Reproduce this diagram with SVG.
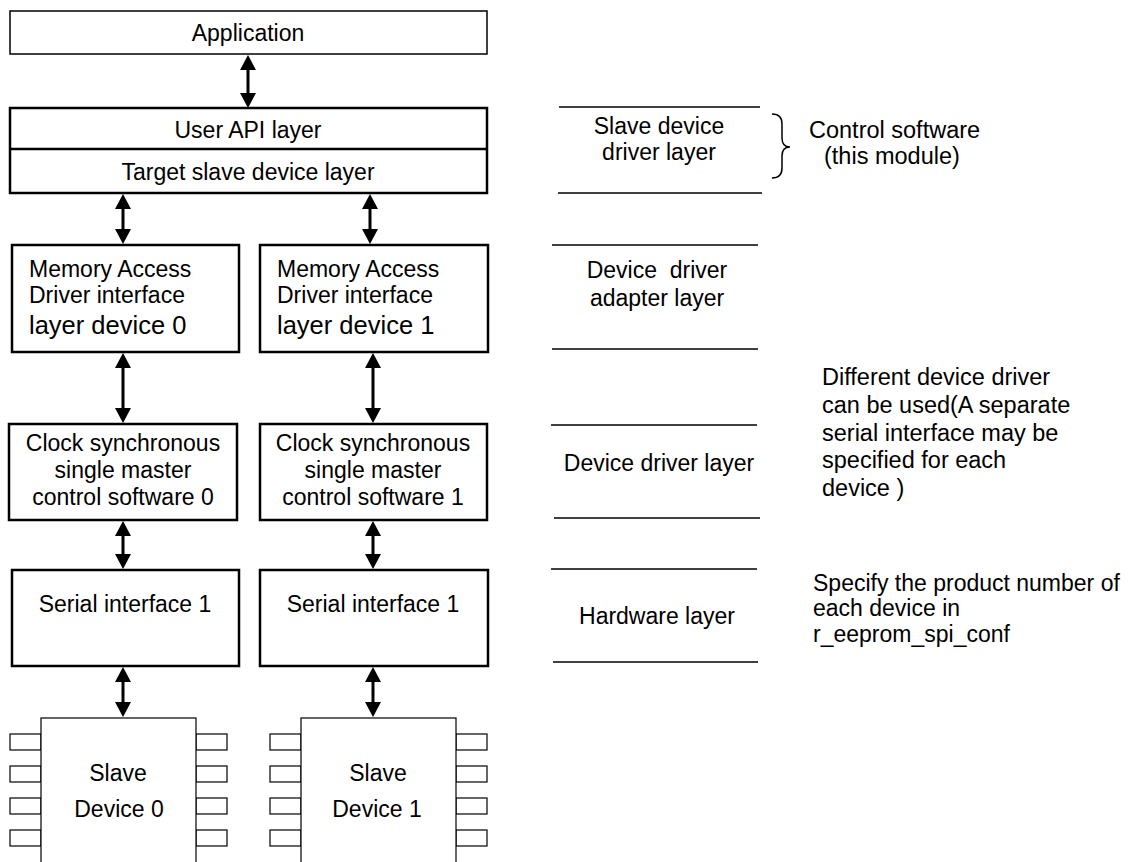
<svg xmlns="http://www.w3.org/2000/svg" width="1143" height="862" viewBox="0 0 1143 862">
<style>
text{font-family:"Liberation Sans",Arial,sans-serif;font-size:23px;fill:#000}
.c{text-anchor:middle}
.box{fill:#fff;stroke:#000;stroke-width:2.5}
.thin{fill:#fff;stroke:#000;stroke-width:1.5}
.chip{fill:#fff;stroke:#000;stroke-width:1.2}
.sep{stroke:#000;stroke-width:1.3}
.arr{stroke:#000;stroke-width:3;marker-start:url(#ah);marker-end:url(#ah)}
.big{font-size:25.5px}
.note{font-size:23.5px}
</style>
<defs>
<marker id="ah" viewBox="0 0 15 16" refX="0" refY="8" markerWidth="15" markerHeight="16" markerUnits="userSpaceOnUse" orient="auto-start-reverse">
<path d="M0,0 L15,8 L0,16 z" fill="#000"/>
</marker>
</defs>

<g id="application">
<rect class="thin" x="10" y="11" width="477" height="43"/>
<text class="c" x="248" y="41">Application</text>
</g>

<g id="slave-device-driver">
<rect class="box" x="10" y="108" width="477" height="85"/>
<line x1="10" y1="149" x2="487" y2="149" stroke="#000" stroke-width="2.5"/>
<text class="c" x="248" y="138">User API layer</text>
<text class="c" x="248" y="180">Target slave device layer</text>
</g>

<g id="memory-access-0">
<rect class="box" x="12" y="245" width="227" height="107"/>
<text x="29" y="277">Memory Access</text>
<text x="29" y="303">Driver interface</text>
<text class="big" x="29" y="334">layer device 0</text>
</g>
<g id="memory-access-1">
<rect class="box" x="260" y="245" width="228" height="107"/>
<text x="277" y="277">Memory Access</text>
<text x="277" y="303">Driver interface</text>
<text class="big" x="277" y="334">layer device 1</text>
</g>

<g id="clock-sync-0">
<rect class="box" x="9" y="424" width="228" height="96"/>
<text class="c" x="123" y="451">Clock synchronous</text>
<text class="c" x="123" y="478">single master</text>
<text class="c" x="123" y="505">control software 0</text>
</g>
<g id="clock-sync-1">
<rect class="box" x="260" y="424" width="227" height="96"/>
<text class="c" x="373" y="451">Clock synchronous</text>
<text class="c" x="373" y="478">single master</text>
<text class="c" x="373" y="505">control software 1</text>
</g>

<g id="serial-0">
<rect class="box" x="12" y="570" width="227" height="96"/>
<text class="c" x="125" y="612">Serial interface 1</text>
</g>
<g id="serial-1">
<rect class="box" x="260" y="570" width="228" height="96"/>
<text class="c" x="373" y="612">Serial interface 1</text>
</g>

<g id="slave-device-0">
<rect class="chip" x="10" y="734" width="31" height="16"/>
<rect class="chip" x="10" y="766" width="31" height="16"/>
<rect class="chip" x="10" y="798" width="31" height="16"/>
<rect class="chip" x="10" y="830" width="31" height="16"/>
<rect class="chip" x="196" y="734" width="31" height="16"/>
<rect class="chip" x="196" y="766" width="31" height="16"/>
<rect class="chip" x="196" y="798" width="31" height="16"/>
<rect class="chip" x="196" y="830" width="31" height="16"/>
<rect class="chip" x="41" y="718" width="155" height="160"/>
<text class="c" x="118" y="781">Slave</text>
<text class="c" x="119" y="817">Device 0</text>
</g>
<g id="slave-device-1">
<rect class="chip" x="270" y="734" width="31" height="16"/>
<rect class="chip" x="270" y="766" width="31" height="16"/>
<rect class="chip" x="270" y="798" width="31" height="16"/>
<rect class="chip" x="270" y="830" width="31" height="16"/>
<rect class="chip" x="456" y="734" width="31" height="16"/>
<rect class="chip" x="456" y="766" width="31" height="16"/>
<rect class="chip" x="456" y="798" width="31" height="16"/>
<rect class="chip" x="456" y="830" width="31" height="16"/>
<rect class="chip" x="301" y="718" width="155" height="160"/>
<text class="c" x="378" y="781">Slave</text>
<text class="c" x="377" y="817">Device 1</text>
</g>

<g id="connectors">
<line class="arr" x1="248" y1="70" x2="248" y2="93"/>
<line class="arr" x1="123" y1="209" x2="123" y2="229"/>
<line class="arr" x1="370" y1="209" x2="370" y2="229"/>
<line class="arr" x1="123" y1="368" x2="123" y2="408"/>
<line class="arr" x1="373" y1="368" x2="373" y2="408"/>
<line class="arr" x1="123" y1="536" x2="123" y2="554"/>
<line class="arr" x1="373" y1="536" x2="373" y2="554"/>
<line class="arr" x1="123" y1="682" x2="123" y2="702"/>
<line class="arr" x1="373" y1="682" x2="373" y2="702"/>
</g>

<g id="layer-labels">
<line class="sep" x1="559" y1="107" x2="760" y2="107"/>
<line class="sep" x1="558" y1="193" x2="762" y2="193"/>
<line class="sep" x1="552" y1="245" x2="758" y2="245"/>
<line class="sep" x1="552" y1="349" x2="758" y2="349"/>
<line class="sep" x1="551" y1="425" x2="757" y2="425"/>
<line class="sep" x1="554" y1="518" x2="760" y2="518"/>
<line class="sep" x1="551" y1="569" x2="757" y2="569"/>
<line class="sep" x1="553" y1="662" x2="758" y2="662"/>
<text class="c" x="659" y="134">Slave device</text>
<text class="c" x="659" y="160">driver layer</text>
<text class="c" x="657" y="278" xml:space="preserve">Device  driver</text>
<text class="c" x="657" y="306">adapter layer</text>
<text class="c" x="659" y="471">Device driver layer</text>
<text class="c" x="657" y="624">Hardware layer</text>
</g>

<g id="control-software-note">
<path d="M772,114 Q782,114 782,124 L782,138 Q782,147 790,147 Q782,147 782,156 L782,168 Q782,178 772,178" fill="none" stroke="#000" stroke-width="1.5"/>
<text class="note" x="809" y="138">Control software</text>
<text class="note" x="824" y="164">(this module)</text>
</g>

<g id="device-driver-note">
<text class="note" x="822" y="385">Different device driver</text>
<text class="note" x="822" y="413">can be used(A separate</text>
<text class="note" x="822" y="441">serial interface may be</text>
<text class="note" x="822" y="468">specified for each</text>
<text class="note" x="822" y="496">device )</text>
</g>

<g id="product-number-note">
<text x="813" y="591">Specify the product number of</text>
<text x="813" y="616">each device in</text>
<text x="813" y="642">r_eeprom_spi_conf</text>
</g>
</svg>
